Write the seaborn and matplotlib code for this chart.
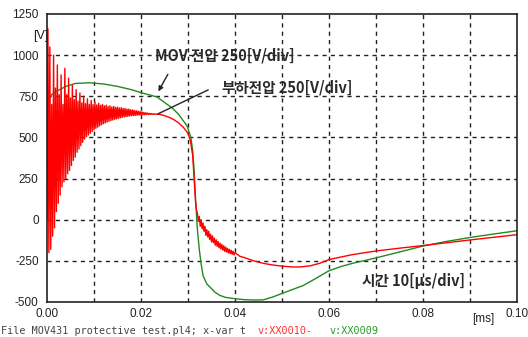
import numpy as np
import pandas as pd
import matplotlib
matplotlib.use("Agg")
import matplotlib.pyplot as plt
import seaborn as sns

# Load voltage (red): fast ringing after the surge, sampled every 0.2 us from t=0
ring_step_ms = 0.0002
load_ring_v = [300, 1160, -200, 1050, -180, 700, -100, 1000, -50, 800,
               50, 940, 100, 760, 150, 880, 200, 700, 230, 920,
               250, 760, 280, 860, 300, 740, 330, 820, 360, 730,
               380, 790, 410, 720, 430, 770, 450, 710, 470, 750,
               490, 705, 505, 735, 515, 700, 525, 725, 535, 700,
               545, 715, 555, 698, 562, 708, 570, 695, 577, 700,
               583, 692, 588, 696, 593, 688, 598, 692, 602, 685,
               606, 688, 610, 682, 613, 684, 616, 679, 619, 680,
               622, 676, 624, 676, 626, 672, 628, 672, 630, 668,
               632, 667, 633, 664, 634, 662, 635, 660, 636, 657,
               637, 655, 638, 652, 638, 650, 639, 648, 639, 646,
               640, 645, 640, 644, 640, 643, 640, 642, 640, 641, 640]

# Load voltage (red): collapse at the end of the surge
load_fall_t = [0.025, 0.026, 0.027, 0.028, 0.029, 0.030, 0.0305, 0.031,
               0.0313, 0.0316, 0.0318]
load_fall_v = [632, 622, 608, 588, 562, 525, 480, 390, 250, 110, 60]

# Load voltage (red): residual noise after the collapse, 0.2 us steps from 0.032 ms
noise_start_ms = 0.032
load_noise_v = [40, -10, 20, -40, 0, -55, -20, -70, -40, -95,
                -60, -105, -70, -120, -88, -135, -98, -140, -112, -155,
                -122, -162, -132, -170, -142, -178, -150, -185, -158, -192,
                -166, -196, -174, -202, -180, -206, -186, -210, -192, -214, -200]

# Load voltage (red): slow recovery
load_tail_t = [0.041, 0.042, 0.044, 0.046, 0.048, 0.050, 0.052, 0.054, 0.056,
               0.058, 0.060, 0.065, 0.070, 0.075, 0.080, 0.085, 0.090, 0.095, 0.100]
load_tail_v = [-222, -230, -250, -265, -275, -282, -287, -287, -280,
               -265, -242, -212, -190, -173, -157, -140, -123, -107, -91]

# MOV voltage (green)
mov_t = [0.0, 0.0002, 0.001, 0.002, 0.004, 0.006, 0.009, 0.012, 0.015, 0.018,
         0.020, 0.0234, 0.0268, 0.028, 0.0298, 0.0306, 0.031, 0.0313, 0.0316,
         0.0320, 0.0324, 0.0328, 0.0332, 0.0340, 0.0347, 0.0357, 0.0368,
         0.038, 0.040, 0.042, 0.044, 0.046, 0.048, 0.050, 0.0545, 0.057,
         0.060, 0.0625, 0.065, 0.070, 0.075, 0.080, 0.085, 0.090, 0.095, 0.100]
mov_v = [0, 720, 760, 780, 810, 828, 832, 825, 810, 790,
         772, 746, 675, 640, 570, 500, 420, 300, 130,
         -60, -180, -270, -340, -390, -410, -440, -460,
         -472, -480, -486, -488, -487, -470, -448, -400, -360,
         -310, -285, -265, -232, -196, -160, -132, -108, -87, -67]

x_ticks = [0.00, 0.02, 0.04, 0.06, 0.08, 0.10]
x_tick_labels = ["0.00", "0.02", "0.04", "0.06", "0.08", "0.10"]
y_ticks = [-500, -250, 0, 250, 500, 750, 1000, 1250]

ring_t = np.arange(len(load_ring_v)) * ring_step_ms
noise_t = noise_start_ms + np.arange(len(load_noise_v)) * ring_step_ms
load = pd.DataFrame({
    "t": np.concatenate([ring_t, load_fall_t, noise_t, load_tail_t]),
    "v": np.concatenate([load_ring_v, load_fall_v, load_noise_v, load_tail_v]),
})
mov = pd.DataFrame({"t": mov_t, "v": mov_v})

sns.set_style("white")
plt.rcParams["font.family"] = ["Noto Sans CJK KR", "DejaVu Sans"]

fig = plt.figure(figsize=(5.28, 3.37), dpi=100)
ax = fig.add_axes([47 / 528, 1 - 302 / 337, 470 / 528, 288 / 337])

sns.lineplot(data=mov, x="t", y="v", ax=ax, color="#218a21", lw=1.0,
             estimator=None, sort=False)
sns.lineplot(data=load, x="t", y="v", ax=ax, color="#ff0000", lw=1.0,
             estimator=None, sort=False)

ax.set_xlim(0, 0.10)
ax.set_ylim(-500, 1250)
grid_x = np.round(np.arange(0, 0.1001, 0.01), 2)
ax.set_xticks(grid_x)
ax.set_xticklabels([x_tick_labels[x_ticks.index(v)] if v in x_ticks else ""
                    for v in grid_x])
ax.set_yticks(y_ticks)
ax.set_yticklabels([str(v) for v in y_ticks])
ax.set_xlabel("")
ax.set_ylabel("")
ax.tick_params(axis="both", direction="out", length=4, width=1, color="#222222",
               labelsize=8.5, labelcolor="#222222", pad=2)
ax.tick_params(axis="x", length=3, pad=1)
for lbl in ax.get_xticklabels() + ax.get_yticklabels():
    lbl.set_family(["Liberation Sans Narrow", "Liberation Sans", "DejaVu Sans"])

# dashed scope graticule
for gx in grid_x[1:-1]:
    ax.axvline(gx, color="#222222", lw=1.0, ls=(0, (3, 3)), zorder=0.5)
for gy in [-250, 0, 250, 500, 750, 1000]:
    ax.axhline(gy, color="#222222", lw=1.0, ls=(0, (3, 3)), zorder=0.5)

for side in ["left", "right", "top", "bottom"]:
    ax.spines[side].set_visible(True)
    ax.spines[side].set_color("#222222")
    ax.spines[side].set_linewidth(1.2)

label_font = ["Noto Sans CJK KR", "DejaVu Sans"]
ax.annotate("", xy=(0.0234, 765), xytext=(0.0260, 898),
            arrowprops=dict(arrowstyle="-|>", color="#222222", lw=1.0,
                            mutation_scale=7))
ax.plot([0.0343, 0.0236], [789, 643], color="#222222", lw=1.0)
ax.text(0.0230, 995, "MOV 전압 250[V/div]", fontsize=10.5, color="#2a2a2a",
        family=label_font, fontweight="bold", va="center", ha="left")
ax.text(0.0372, 801, "부하전압 250[V/div]", fontsize=10.5, color="#2a2a2a",
        family=label_font, fontweight="bold", va="center", ha="left")
ax.text(0.0670, -370, "시간 10[μs/div]", fontsize=10.5, color="#2a2a2a",
        family=label_font, fontweight="bold", va="center", ha="left")

fig.text(33 / 528, 1 - 36 / 337, "[V]", fontsize=9, color="#222222",
         va="center", ha="left", family=["Liberation Sans", "DejaVu Sans"])
fig.text(472 / 528, 1 - 319 / 337, "[ms]", fontsize=8.5, color="#222222",
         va="center", ha="left", family=["Liberation Sans", "DejaVu Sans"])

# footer with trace names
footer_y = 1 - 331 / 337
footer_font = ["DejaVu Sans Mono", "DejaVu Sans"]
fig.text(1 / 528, footer_y, "File MOV431 protective test.pl4; x-var t",
         fontsize=7.3, color="#444444", va="center", ha="left",
         family=footer_font)
fig.text(258 / 528, footer_y, "v:XX0010-", fontsize=7.3, color="#ff3333",
         va="center", ha="left", family=footer_font)
fig.text(330 / 528, footer_y, "v:XX0009", fontsize=7.3, color="#2a9a2a",
         va="center", ha="left", family=footer_font)

fig.savefig("out.png", dpi=100, facecolor="white")
